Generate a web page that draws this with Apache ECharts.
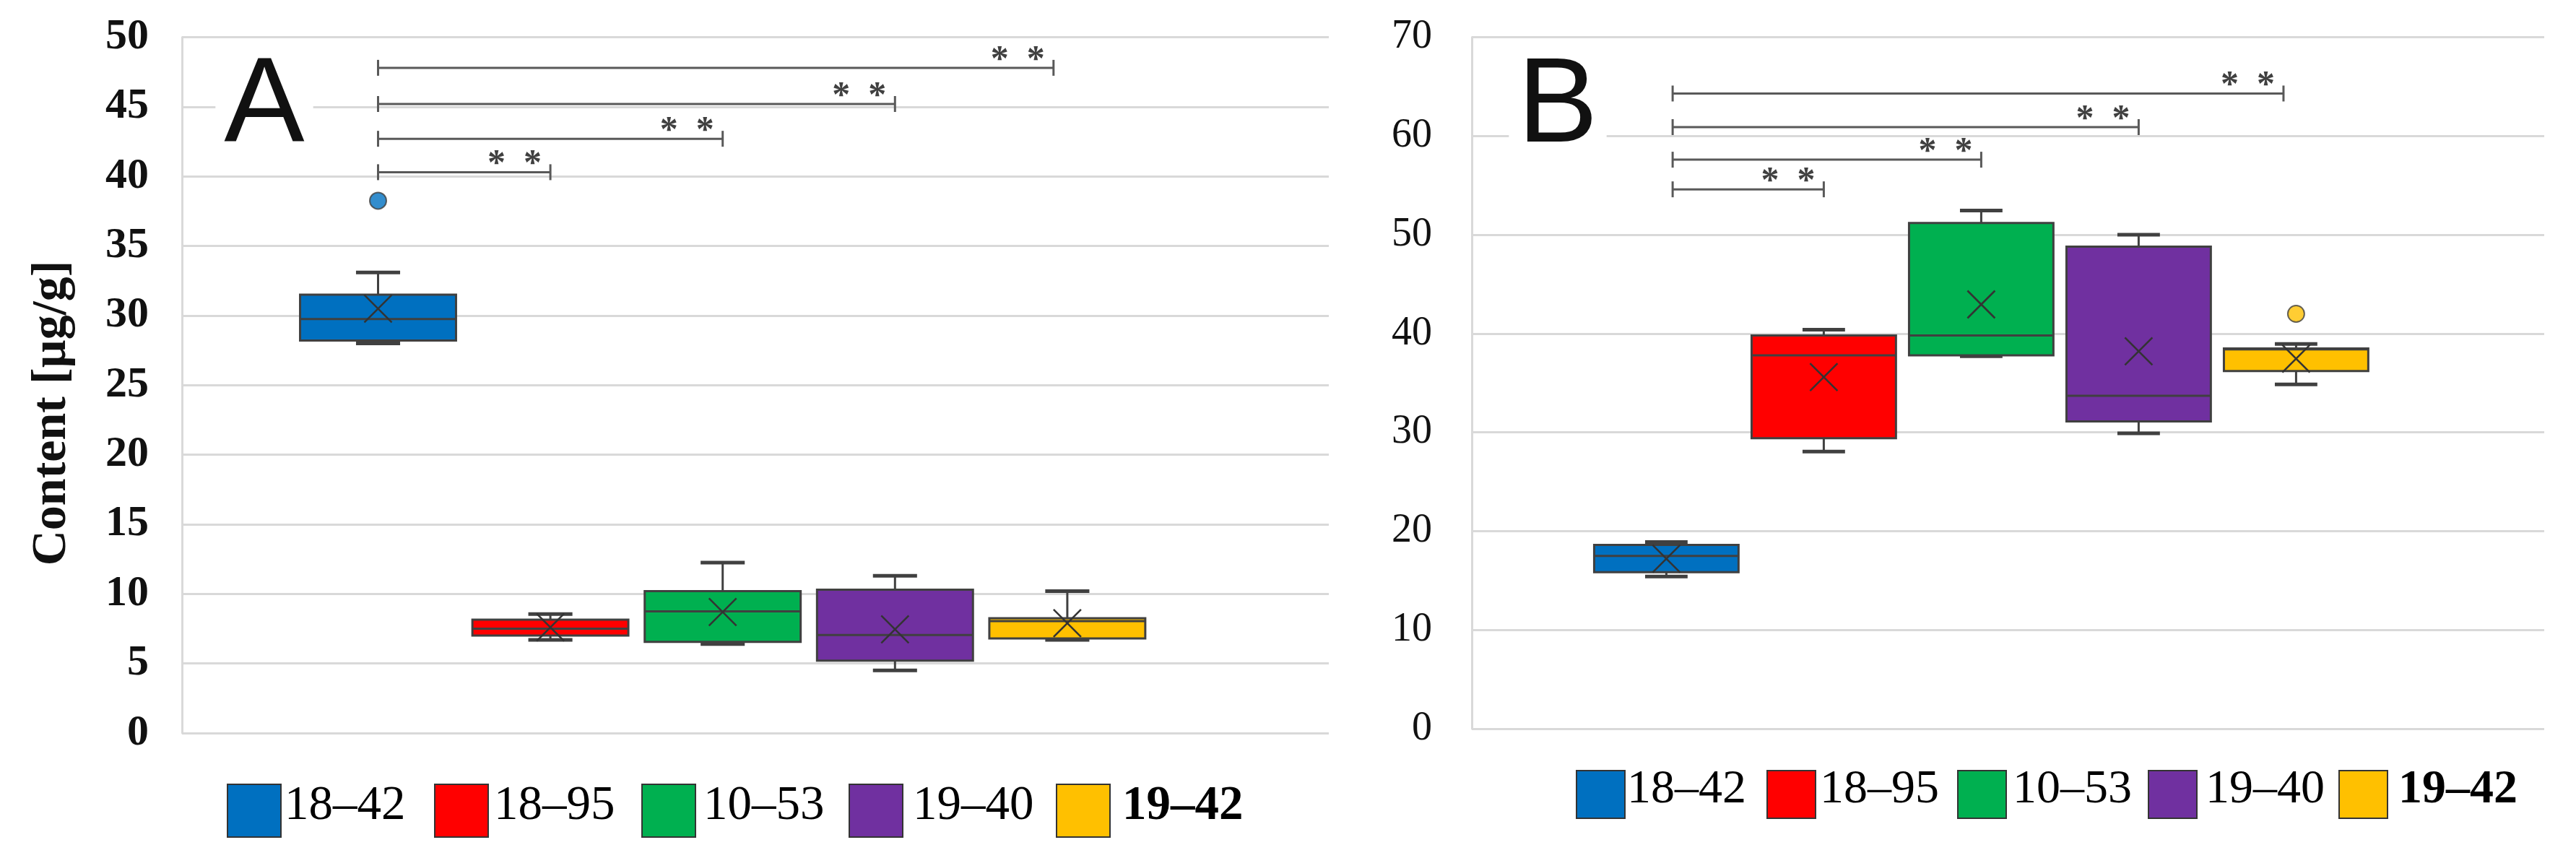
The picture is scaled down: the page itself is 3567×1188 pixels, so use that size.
<!DOCTYPE html>
<html><head><meta charset="utf-8">
<script src="https://cdn.jsdelivr.net/npm/echarts@6/dist/echarts.min.js"></script>
<style>html,body{margin:0;padding:0;background:#fff}#c{width:3567px;height:1188px}</style>
</head><body><div id="c"></div>
<script>
// ---------- data ----------
const categories = ['18–42', '18–95', '10–53', '19–40', '19–42'];
const palette = ['#0070C0', '#FF0000', '#00B050', '#7030A0', '#FFC000'];

// Panel A
const aTicks = [0, 50, 5];
const aMin    = [28.0, 6.7, 6.4, 4.5, 6.7];
const aQ1     = [28.2, 7.0, 6.55, 5.2, 6.8];
const aMedian = [29.75, 7.5, 8.75, 7.05, 8.05];
const aQ3     = [31.5, 8.15, 10.2, 10.3, 8.25];
const aMax    = [33.1, 8.55, 12.25, 11.3, 10.2];
const aMean   = [30.5, 7.6, 8.7, 7.45, 7.9];
const aOutliers = [[0, 38.25]];
const aSigStart = 0;
const aSigEnd   = [1, 2, 3, 3.92];
const aSigLevel = [40.3, 42.7, 45.2, 47.8];

// Panel B
const bTicks = [0, 70, 10];
const bMin    = [15.4, 28.05, 37.7, 29.9, 34.85];
const bQ1     = [15.85, 29.4, 37.8, 31.1, 36.2];
const bMedian = [17.5, 37.8, 39.8, 33.7, 38.4];
const bQ3     = [18.6, 39.8, 51.2, 48.8, 38.5];
const bMax    = [18.9, 40.4, 52.45, 50.0, 38.95];
const bMean   = [17.2, 35.6, 42.95, 38.2, 37.45];
const bOutliers = [[4, 42.0]];
const bSigStart = 0.04;
const bSigEnd   = [1, 2, 3, 3.92];
const bSigLevel = [54.6, 57.6, 60.9, 64.3];
const sigLabel = '*  *';

// ---------- styling helpers ----------
const STROKE = '#404040';
const SERIF = 'Liberation Serif';

function boxRender(boxFrac, capFrac) {
  return function (params, api) {
    const x = api.value(0);
    const c = v => api.coord([x, v]);
    const band = api.size([1, 0])[0];
    const bw = band * boxFrac, cw = band * capFrac;
    const pMin = c(api.value(1)), pQ1 = c(api.value(2)), pMed = c(api.value(3)),
          pQ3 = c(api.value(4)), pMax = c(api.value(5)), pMean = c(api.value(6));
    const cx = pMed[0];
    const fill = api.visual('color');
    const ls = { stroke: STROKE, lineWidth: 3 };
    const s = 19;
    return {
      type: 'group', children: [
        { type: 'line', shape: { x1: cx, y1: pQ3[1], x2: cx, y2: pMax[1] }, style: ls },
        { type: 'line', shape: { x1: cx, y1: pQ1[1], x2: cx, y2: pMin[1] }, style: ls },
        { type: 'line', shape: { x1: cx - cw / 2, y1: pMax[1], x2: cx + cw / 2, y2: pMax[1] }, style: { stroke: STROKE, lineWidth: 5 } },
        { type: 'line', shape: { x1: cx - cw / 2, y1: pMin[1], x2: cx + cw / 2, y2: pMin[1] }, style: { stroke: STROKE, lineWidth: 5 } },
        { type: 'rect', shape: { x: cx - bw / 2, y: pQ3[1], width: bw, height: pQ1[1] - pQ3[1] }, style: { fill: fill, stroke: STROKE, lineWidth: 3 } },
        { type: 'line', shape: { x1: cx - bw / 2, y1: pMed[1], x2: cx + bw / 2, y2: pMed[1] }, style: ls },
        { type: 'line', shape: { x1: cx - s, y1: pMean[1] - s, x2: cx + s, y2: pMean[1] + s }, style: { stroke: '#333', lineWidth: 2.5 } },
        { type: 'line', shape: { x1: cx - s, y1: pMean[1] + s, x2: cx + s, y2: pMean[1] - s }, style: { stroke: '#333', lineWidth: 2.5 } }
      ]
    };
  };
}

function sigRender(params, api) {
  const p1 = api.coord([api.value(0), api.value(2)]);
  const p2 = api.coord([api.value(1), api.value(2)]);
  const st = { stroke: '#595959', lineWidth: 3 };
  const t = 11;
  return {
    type: 'group', children: [
      { type: 'line', shape: { x1: p1[0], y1: p1[1], x2: p2[0], y2: p2[1] }, style: st },
      { type: 'line', shape: { x1: p1[0], y1: p1[1] - t, x2: p1[0], y2: p1[1] + t }, style: st },
      { type: 'line', shape: { x1: p2[0], y1: p2[1] - t, x2: p2[0], y2: p2[1] + t }, style: st },
      { type: 'text', style: { text: sigLabel, x: p2[0] - 12, y: p2[1] - 10, align: 'right', verticalAlign: 'middle', font: 'bold 50px "Liberation Serif"', fill: '#404040' } }
    ]
  };
}

function buildPanel(axisIdx, mins, q1s, meds, q3s, maxs, means, outliers, sigStart, sigEnd, sigLevel, boxFrac, capFrac) {
  const out = [];
  categories.forEach((name, i) => {
    out.push({
      name: name, type: 'custom', xAxisIndex: axisIdx, yAxisIndex: axisIdx,
      itemStyle: { color: palette[i], borderColor: '#333', borderWidth: 3 },
      renderItem: boxRender(boxFrac, capFrac),
      encode: { x: 0, y: [1, 2, 3, 4, 5, 6] },
      data: [[i, mins[i], q1s[i], meds[i], q3s[i], maxs[i], means[i]]],
      z: 3
    });
  });
  outliers.forEach(o => {
    out.push({
      name: categories[o[0]], type: 'scatter', xAxisIndex: axisIdx, yAxisIndex: axisIdx,
      symbol: 'circle', symbolSize: 23,
      itemStyle: { color: palette[o[0]], borderColor: STROKE, borderWidth: 2 },
      data: [o], z: 4
    });
  });
  out.push({
    name: 'sig', type: 'custom', xAxisIndex: axisIdx, yAxisIndex: axisIdx,
    renderItem: sigRender, encode: { x: [0, 1], y: 2 },
    data: sigEnd.map((e, k) => [sigStart, e, sigLevel[k]]), z: 5
  });
  return out;
}

const gA = { top: 51.5, height: 963.5 };
const gB = { top: 51.5, height: 957.5 };

// legend: icons from the legend component, labels as serif text beside each icon
const legA = { left: 309, top: 1080, iw: 74, ih: 73, step: 290, textOff: 85, fs: 67 };
const legB = { left: 2177, top: 1061, iw: 67, ih: 66, step: 267, textOff: 76, fs: 66 };

function legendFor(L) {
  return {
    data: categories, left: L.left, top: L.top, itemWidth: L.iw, itemHeight: L.ih,
    itemGap: L.step - L.iw - 5, icon: 'rect', selectedMode: false,
    formatter: () => '', textStyle: { fontSize: 1, padding: 0 }
  };
}
function legendLabels(L) {
  return categories.map((n, i) => ({
    type: 'text', x: L.left + i * L.step + L.textOff, y: L.top + L.ih / 2,
    style: {
      text: n, font: (i === 4 ? 'bold ' : 'normal ') + L.fs + 'px "Liberation Serif"',
      fill: '#000', align: 'left', verticalAlign: 'middle'
    }
  }));
}

const chart = echarts.init(document.getElementById('c'));
chart.setOption({
  backgroundColor: '#fff',
  animation: false,
  textStyle: { fontFamily: SERIF },
  grid: [
    { left: 252, width: 1588, top: gA.top, height: gA.height },
    { left: 404.2, width: 1193, top: gA.top, height: gA.height },
    { left: 2038, width: 1485, top: gB.top, height: gB.height },
    { left: 2198.4, width: 1090, top: gB.top, height: gB.height }
  ],
  xAxis: [
    { gridIndex: 0, type: 'value', min: 0, max: 1, show: false },
    { gridIndex: 1, type: 'value', min: -0.5, max: 4.5, show: false },
    { gridIndex: 2, type: 'value', min: 0, max: 1, show: false },
    { gridIndex: 3, type: 'value', min: -0.5, max: 4.5, show: false }
  ],
  yAxis: [
    {
      gridIndex: 0, type: 'value', min: aTicks[0], max: aTicks[1], interval: aTicks[2],
      axisLine: { show: true, lineStyle: { color: '#d9d9d9', width: 3 } },
      axisTick: { show: false },
      splitLine: { lineStyle: { color: '#d9d9d9', width: 3 } },
      axisLabel: { fontFamily: SERIF, fontSize: 60, fontWeight: 'bold', color: '#111', margin: 46, padding: [28, 0, 0, 0] }
    },
    { gridIndex: 1, type: 'value', min: aTicks[0], max: aTicks[1], show: false },
    {
      gridIndex: 2, type: 'value', min: bTicks[0], max: bTicks[1], interval: bTicks[2],
      axisLine: { show: true, lineStyle: { color: '#d9d9d9', width: 3 } },
      axisTick: { show: false },
      splitLine: { lineStyle: { color: '#d9d9d9', width: 3 } },
      axisLabel: { fontFamily: SERIF, fontSize: 56, color: '#111', margin: 55, padding: [26, 0, 0, 0] }
    },
    { gridIndex: 3, type: 'value', min: bTicks[0], max: bTicks[1], show: false }
  ],
  legend: [legendFor(legA), legendFor(legB)],
  graphic: [
    { type: 'text', x: 72, y: 572, rotation: Math.PI / 2, style: { text: 'Content [µg/g]', font: 'bold 68px "Liberation Serif"', fill: '#111', align: 'center', verticalAlign: 'middle' } },
    { type: 'text', x: 366, y: 150, z: 2, style: { text: 'A', font: '167px "Liberation Sans"', fill: '#111', align: 'center', verticalAlign: 'middle', backgroundColor: '#fff', padding: [0, 12] } },
    { type: 'text', x: 2157, y: 150, z: 2, style: { text: 'B', font: '167px "Liberation Sans"', fill: '#111', align: 'center', verticalAlign: 'middle', backgroundColor: '#fff', padding: [0, 12] } }
  ].concat(legendLabels(legA), legendLabels(legB)),
  series: [].concat(
    buildPanel(1, aMin, aQ1, aMedian, aQ3, aMax, aMean, aOutliers, aSigStart, aSigEnd, aSigLevel, 0.905, 0.256),
    buildPanel(3, bMin, bQ1, bMedian, bQ3, bMax, bMean, bOutliers, bSigStart, bSigEnd, bSigLevel, 0.917, 0.27)
  )
});
</script>
</body></html>
